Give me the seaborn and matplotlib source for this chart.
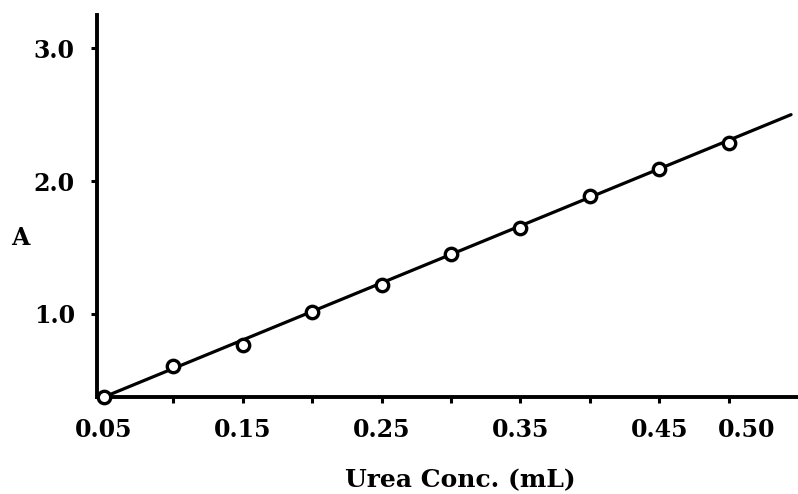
import matplotlib
matplotlib.use("Agg")
import matplotlib.pyplot as plt
import matplotlib.transforms as mtransforms
import seaborn as sns
import pandas as pd

# ---- data ----
urea_conc = [0.05, 0.10, 0.15, 0.20, 0.25, 0.30, 0.35, 0.40, 0.45, 0.50]
absorbance = [0.375, 0.61, 0.77, 1.015, 1.22, 1.45, 1.65, 1.89, 2.09, 2.29]
fit_x = [0.05, 0.545]
fit_y = [0.375, 2.50]
x_ticks = [0.05, 0.10, 0.15, 0.20, 0.25, 0.30, 0.35, 0.40, 0.45, 0.50]
x_tick_labels = ["0.05", "", "0.15", "", "0.25", "", "0.35", "", "0.45", "0.50"]
y_ticks = [1.0, 2.0, 3.0]
y_tick_labels = ["1.0", "2.0", "3.0"]
x_label = "Urea Conc. (mL)"
y_label = "A"

sns.set_style("ticks")
plt.rcParams["font.family"] = ["DejaVu Serif"]
plt.rcParams["font.weight"] = "bold"
plt.rcParams["text.color"] = "black"

fig = plt.figure(figsize=(7.98, 4.94), dpi=100)
ax = fig.add_axes([97 / 798, (494 - 397) / 494, (798 - 97) / 798, (397 - 15) / 494])

pts = pd.DataFrame({"x": urea_conc, "y": absorbance})
fit = pd.DataFrame({"x": fit_x, "y": fit_y})

sns.lineplot(data=fit, x="x", y="y", ax=ax, color="black", linewidth=2.3, zorder=2)
sns.scatterplot(data=pts, x="x", y="y", ax=ax, marker="o", s=80,
                facecolor="white", edgecolor="black", linewidth=2.4, zorder=3,
                clip_on=False)

ax.set_xlim(0.045, 0.55)
ax.set_ylim(0.375, 3.25)

for side in ["top", "right"]:
    ax.spines[side].set_visible(False)
for side in ["left", "bottom"]:
    ax.spines[side].set_linewidth(2.8)
    ax.spines[side].set_color("black")

ax.set_xticks(x_ticks)
ax.set_xticklabels(x_tick_labels)
ax.set_yticks(y_ticks)
ax.set_yticklabels(y_tick_labels)
ax.tick_params(axis="both", direction="out", length=4, width=2.2, colors="black",
               labelsize=17)
ax.tick_params(axis="x", pad=11)
ax.tick_params(axis="y", pad=12)
for lab in ax.get_xticklabels() + ax.get_yticklabels():
    lab.set_fontweight("bold")
    lab.set_color("black")

# the 0.50 label sits a little to the right of its tick in the reference
lbl = ax.get_xticklabels()[-1]
lbl.set_transform(lbl.get_transform() + mtransforms.ScaledTranslation(0.18, 0, fig.dpi_scale_trans))

ax.set_xlabel("")
ax.set_ylabel("")
fig.text(460 / 798, 1 - 480 / 494, x_label, ha="center", va="center",
         fontsize=18, fontweight="bold", color="black")
fig.text(20 / 798, 1 - 238 / 494, y_label, ha="center", va="center",
         fontsize=17, fontweight="bold", color="black")

fig.savefig("out.png", dpi=100)
